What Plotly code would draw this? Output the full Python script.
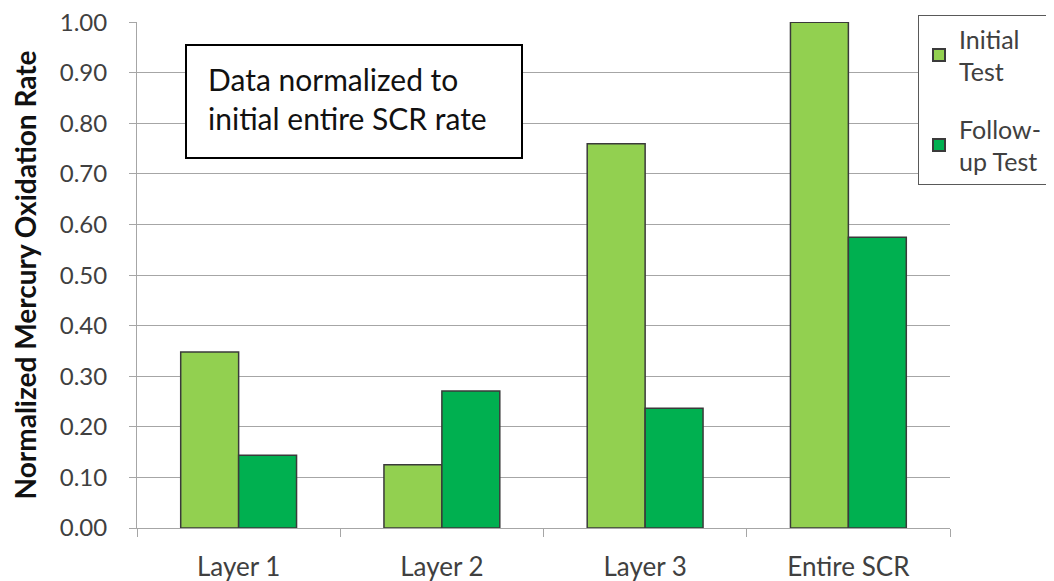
import plotly.graph_objects as go

categories = ["Layer 1", "Layer 2", "Layer 3", "Entire SCR"]
initial_test = [0.348, 0.125, 0.760, 1.000]
followup_test = [0.144, 0.271, 0.237, 0.575]
series_names = ["Initial<br>Test", "Follow-<br>up Test"]
y_ticks = [0.0, 0.1, 0.2, 0.3, 0.4, 0.5, 0.6, 0.7, 0.8, 0.9, 1.0]

FONT = "Lato, 'Open Sans', sans-serif"
PW, PH, X0, Y0 = 813, 506, 137, 528  # plot area in page pixels


def px(x):
    return (x - X0) / PW


def py(y):
    return (Y0 - y) / PH


fig = go.Figure()
fig.add_trace(go.Bar(x=categories, y=initial_test, name=series_names[0], legendgroup="a",
                     marker=dict(color="#92D050", line=dict(color="#3a3a3a", width=1.5))))
fig.add_trace(go.Bar(x=categories, y=followup_test, name=series_names[1], legendgroup="b",
                     marker=dict(color="#00B050", line=dict(color="#3a3a3a", width=1.5))))

# page body has an 8px margin, so the figure is sized/offset to compensate
fig.update_layout(
    width=1046, height=573,
    margin=dict(l=129, r=104, t=14, b=53, autoexpand=False),
    paper_bgcolor="white", plot_bgcolor="white",
    barmode="group", bargap=0.43, bargroupgap=0,
    font=dict(family=FONT, color="#404040"),
    legend=dict(x=px(918), y=py(15), xanchor="left", yanchor="top",
                bgcolor="white", bordercolor="#595959", borderwidth=1,
                font=dict(size=25, color="#404040"), tracegroupgap=22,
                itemsizing="constant"),
    shapes=[dict(type="rect", xref="paper", yref="paper",
                 x0=px(186), x1=px(522), y0=py(158), y1=py(45),
                 line=dict(color="black", width=2), fillcolor="white", layer="above")],
    annotations=[dict(
        text="Data normalized to<br>initial entire SCR rate",
        xref="paper", yref="paper", x=px(206), y=py(98),
        xanchor="left", yanchor="middle", align="left", showarrow=False,
        font=dict(size=30, color="#111111", family=FONT))],
)
fig.update_yaxes(
    range=[0, 1.0005], tickvals=y_ticks, tickformat=".2f",
    showgrid=True, gridcolor="#a6a6a6", gridwidth=1,
    showline=True, linecolor="#a6a6a6", linewidth=1,
    ticks="outside", ticklen=7, tickcolor="#a6a6a6",
    tickfont=dict(size=24, color="#404040"), ticklabelstandoff=17,
    ticklabeloverflow="allow",
    title=dict(text="<b>Normalized Mercury Oxidation Rate</b>",
               font=dict(size=28, color="#111111"), standoff=14),
    zeroline=False, automargin=False,
)
fig.update_xaxes(
    showline=True, linecolor="#a6a6a6", linewidth=1,
    ticks="outside", ticklen=8, tickcolor="#a6a6a6", tickson="boundaries",
    tickfont=dict(size=26, color="#404040"), ticklabelstandoff=16,
    automargin=False,
)
fig.write_html("out.html")
